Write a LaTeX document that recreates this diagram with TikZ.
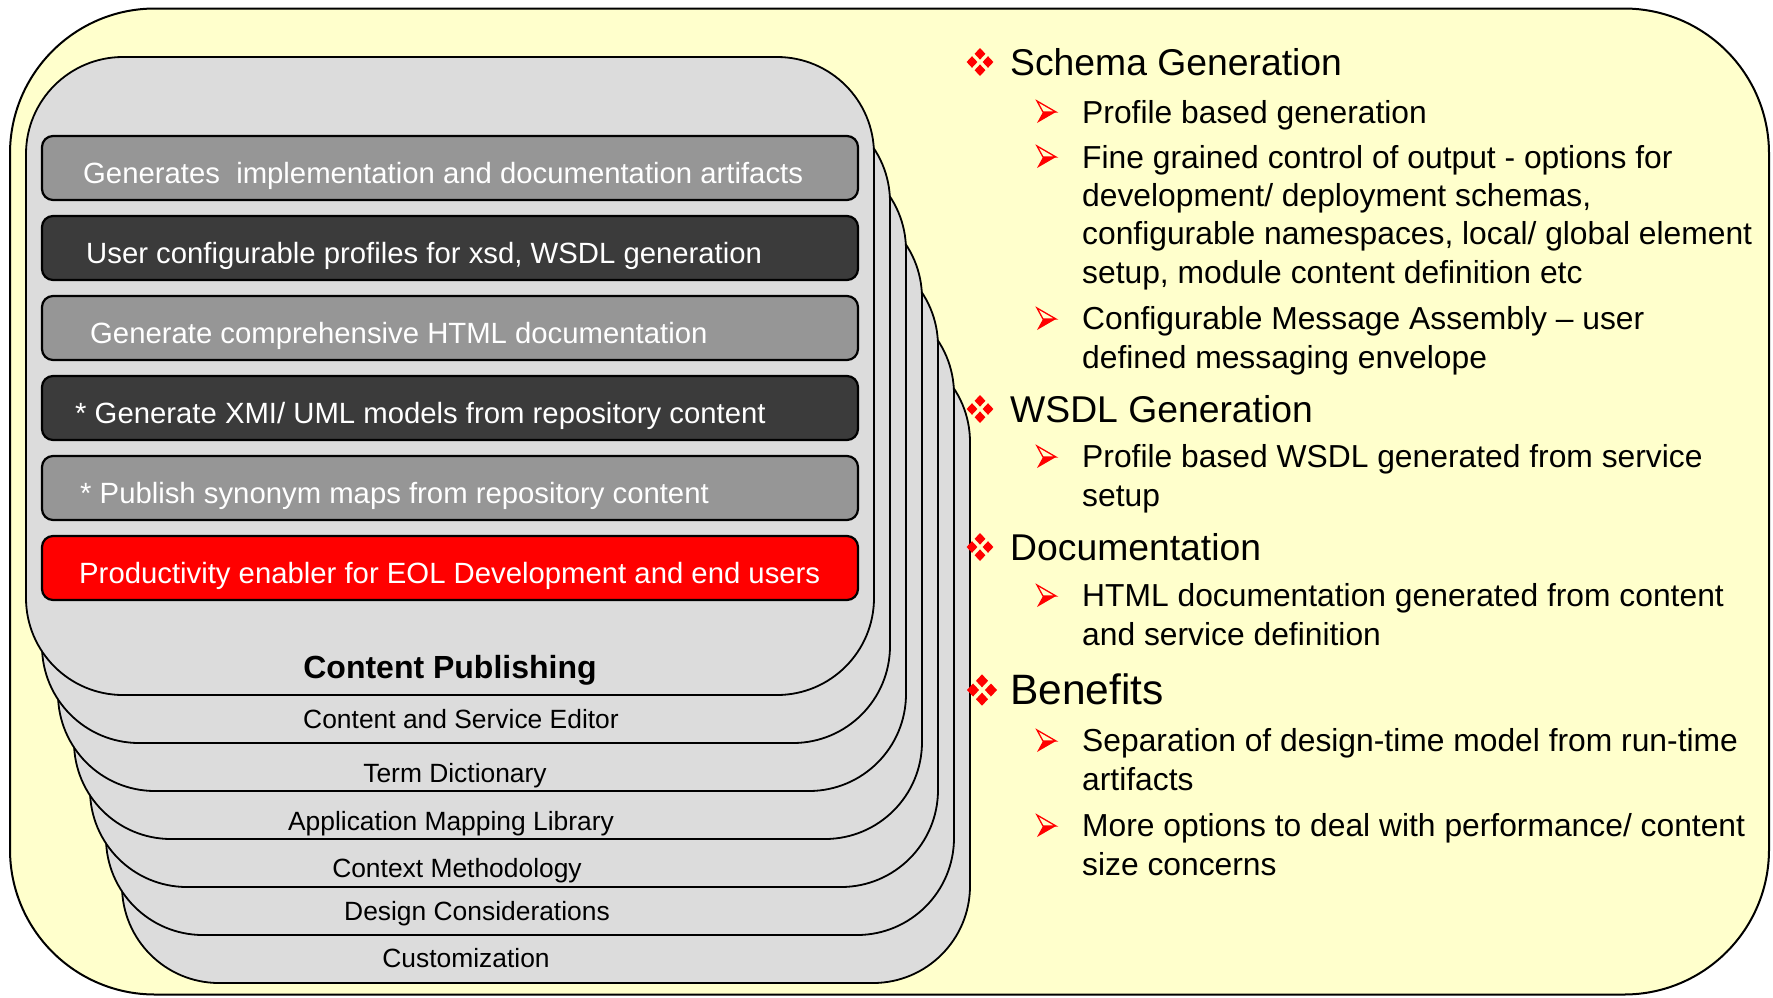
\documentclass[tikz,border=0pt]{standalone}
\usepackage{fontspec}
\setmainfont{Liberation Sans}

\definecolor{panel}{HTML}{FFFFCC}
\definecolor{cardfill}{HTML}{DCDCDC}
\definecolor{barlight}{HTML}{969696}
\definecolor{bardark}{HTML}{3B3B3B}
\definecolor{barred}{HTML}{FF0000}
\definecolor{bulletred}{HTML}{FF0000}

\tikzset{
  panelbox/.style={draw=black, line width=2pt, fill=panel, rounded corners=145pt,
    minimum width=1759pt, minimum height=986pt, inner sep=0pt},
  card/.style={draw=black, line width=1.8pt, fill=cardfill, rounded corners=97pt,
    minimum width=848pt, minimum height=638pt, inner sep=0pt},
  bar/.style={draw=black, line width=2.2pt, rounded corners=11pt,
    minimum width=816pt, minimum height=64pt, inner sep=0pt},
  bartext/.style={anchor=base west, inner sep=0pt, text=white,
    font=\fontsize{29.3}{35}\selectfont},
  cardlabel/.style={anchor=base, inner sep=0pt, font=\fontsize{26.4}{32}\selectfont},
  head/.style={anchor=base west, inner sep=0pt, font=\fontsize{37.3}{45}\selectfont},
  % multi-line items are placed by the baseline of their last line
  item/.style={anchor=base west, inner sep=0pt, align=left,
    font=\fontsize{31.8}{38.3}\selectfont},
  quad/.pic={
    \foreach \dx/\dy in {0/-8.2, -8/0, 8/0, 0/8.2}
      \fill[bulletred] (\dx,{\dy-5.8}) -- ({\dx+5.4},\dy) -- (\dx,{\dy+5.8}) -- ({\dx-5.4},\dy) -- cycle;
  },
  % 3D arrowhead bullet: hollow upper half, solid lower half
  arrowhead/.pic={
    \draw[bulletred, line width=1.3pt, line join=miter] (6,0) -- (0,-11) -- (19,0) -- cycle;
    \fill[bulletred] (6,0) -- (19,0) -- (0,11) -- cycle;
  },
}

\begin{document}
\begin{tikzpicture}[x=1pt, y=-1pt]
\useasboundingbox (0,0) rectangle (1773,997);

% outer panel
\node[panelbox] (panel) at (889.5,501.5) {};

% stacked cards, back to front
\foreach \i in {6,5,4,3,2,1,0}
  \node[card] (card\i) at ({450+16*\i},{376+48*\i}) {};

% card titles
\node[cardlabel, font=\fontsize{32}{38}\selectfont\bfseries] (lbl0) at (450,678) {Content Publishing};
\node[cardlabel] (lbl1) at (461,728) {Content and Service Editor};
\node[cardlabel] (lbl2) at (455,782) {Term Dictionary};
\node[cardlabel] (lbl3) at (451,830) {Application Mapping Library};
\node[cardlabel] (lbl4) at (457,877) {Context Methodology};
\node[cardlabel] (lbl5) at (477,920) {Design Considerations};
\node[cardlabel] (lbl6) at (466,967) {Customization};

% feature bars on the front card
\node[bar, fill=barlight] (bar1) at (450,168) {};
\node[bar, fill=bardark]  (bar2) at (450,248) {};
\node[bar, fill=barlight] (bar3) at (450,328) {};
\node[bar, fill=bardark]  (bar4) at (450,408) {};
\node[bar, fill=barlight] (bar5) at (450,488) {};
\node[bar, fill=barred]   (bar6) at (450,568) {};

\node[bartext] (txt1) at (83,183) {Generates\ \ implementation and documentation artifacts};
\node[bartext] (txt2) at (86,263) {User configurable profiles for xsd, WSDL generation};
\node[bartext] (txt3) at (90,343) {Generate comprehensive HTML documentation};
\node[bartext] (txt4) at (75,423) {* Generate XMI/ UML models from repository content};
\node[bartext] (txt5) at (80,503) {* Publish synonym maps from repository content};
\node[bartext] (txt6) at (79,583) {Productivity enabler for EOL Development and end users};

% right-hand bullet list
\pic at (980,62) {quad};
\node[head] (h1) at (1010,75) {Schema Generation};
\pic at (1037,112) {arrowhead};
\node[item] (i11) at (1082,123) {Profile based generation};
\pic at (1037,157) {arrowhead};
\node[item] (i12) at (1082,283) {Fine grained control of output - options for\\development/ deployment schemas,\\configurable namespaces, local/ global element\\setup, module content definition etc};
\pic at (1037,319) {arrowhead};
\node[item] (i13) at (1082,368) {Configurable Message Assembly -- user\\defined messaging envelope};

\pic at (980,409) {quad};
\node[head] (h2) at (1010,422) {WSDL Generation};
\pic at (1037,457) {arrowhead};
\node[item] (i21) at (1082,506) {Profile based WSDL generated from service\\setup};

\pic at (980,547) {quad};
\node[head] (h3) at (1010,560) {Documentation};
\pic at (1037,596) {arrowhead};
\node[item] (i31) at (1082,645) {HTML documentation generated from content\\and service definition};

\pic[scale=1.12] at (982,690) {quad};
\node[head, font=\fontsize{42.5}{50}\selectfont] (h4) at (1010,704) {Benefits};
\pic at (1037,741) {arrowhead};
\node[item] (i41) at (1082,790) {Separation of design-time model from run-time\\artifacts};
\pic at (1037,826) {arrowhead};
\node[item] (i42) at (1082,875) {More options to deal with performance/ content\\size concerns};
\end{tikzpicture}
\end{document}
